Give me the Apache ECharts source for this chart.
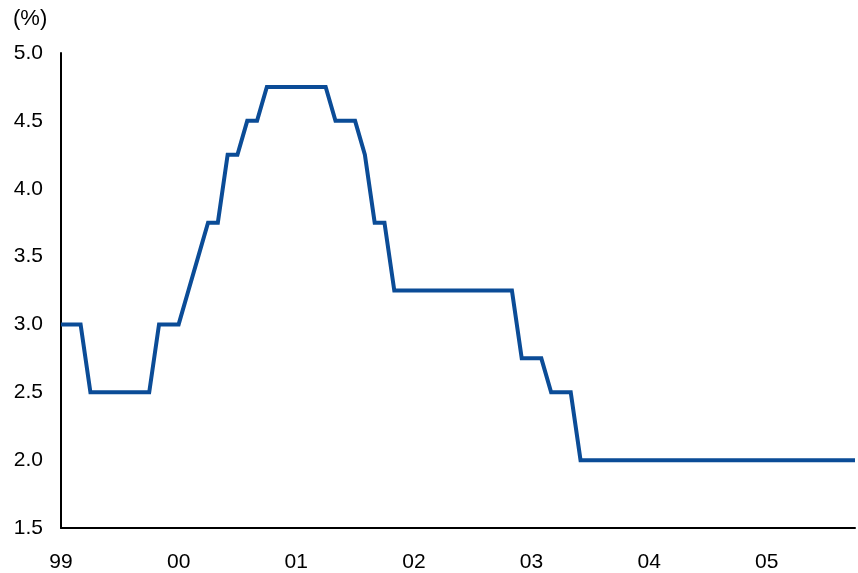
<!DOCTYPE html>
<html>
<head>
<meta charset="utf-8">
<script src="https://cdn.jsdelivr.net/npm/echarts@6/dist/echarts.min.js"></script>
<style>html,body{margin:0;padding:0;background:#fff}#c{width:858px;height:573px}</style>
</head>
<body>
<div id="c"></div>
<script>
// Monthly observations, Jan 1999 .. Oct 2005
const yearLabels = ['99','00','01','02','03','04','05'];
const rateValues = [
  3.0, 3.0, 3.0, 2.5, 2.5, 2.5, 2.5, 2.5, 2.5, 2.5, 3.0, 3.0,   // 1999
  3.0, 3.25, 3.5, 3.75, 3.75, 4.25, 4.25, 4.5, 4.5, 4.75, 4.75, 4.75, // 2000
  4.75, 4.75, 4.75, 4.75, 4.5, 4.5, 4.5, 4.25, 3.75, 3.75, 3.25, 3.25, // 2001
  3.25, 3.25, 3.25, 3.25, 3.25, 3.25, 3.25, 3.25, 3.25, 3.25, 3.25, 2.75, // 2002
  2.75, 2.75, 2.5, 2.5, 2.5, 2.0, 2.0, 2.0, 2.0, 2.0, 2.0, 2.0, // 2003
  2.0, 2.0, 2.0, 2.0, 2.0, 2.0, 2.0, 2.0, 2.0, 2.0, 2.0, 2.0, // 2004
  2.0, 2.0, 2.0, 2.0, 2.0, 2.0, 2.0, 2.0, 2.0, 2.0             // 2005 (to Oct)
];
const categories = rateValues.map((v, i) => i % 12 === 0 ? yearLabels[i / 12] : '');

const chart = echarts.init(document.getElementById('c'), null, {renderer: 'canvas'});
const font = 'Arial, "Liberation Sans", sans-serif';
chart.setOption({
  animation: false,
  graphic: [{
    type: 'text', left: 13, top: 8,
    style: {text: '(%)', fontSize: 22, fontFamily: font, fill: '#000'}
  }],
  grid: {left: 61, right: 0, top: 53, bottom: 45, containLabel: false},
  xAxis: {
    type: 'category', data: categories, boundaryGap: false,
    axisLine: {lineStyle: {color: '#000', width: 2}},
    axisTick: {show: false},
    axisLabel: {interval: 0, color: '#000', fontSize: 21, fontFamily: font, margin: 24}
  },
  yAxis: {
    type: 'value', min: 1.5, max: 5.0, interval: 0.5,
    axisLine: {show: true, lineStyle: {color: '#000', width: 2}},
    axisTick: {show: false},
    splitLine: {show: false},
    axisLabel: {color: '#000', fontSize: 21, fontFamily: font, margin: 18,
      formatter: v => v.toFixed(1)}
  },
  series: [{
    type: 'line', data: rateValues, symbol: 'none',
    lineStyle: {color: '#0b4c97', width: 4, join: 'miter'}
  }]
});
</script>
</body>
</html>
